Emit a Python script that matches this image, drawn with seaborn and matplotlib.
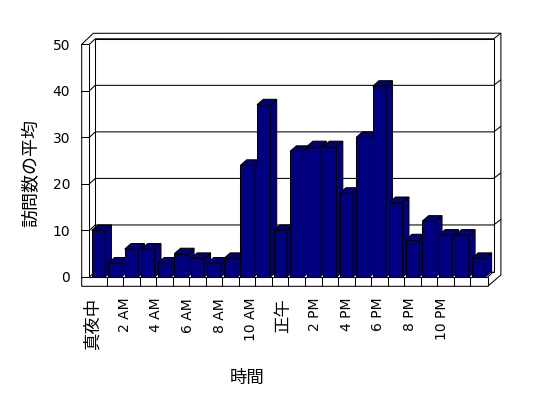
import matplotlib
matplotlib.use('Agg')
import matplotlib.pyplot as plt
import seaborn as sns
import pandas as pd
import numpy as np
from matplotlib.patches import Polygon

# ---------------- data ----------------
hours = ['真夜中', '1 AM', '2 AM', '3 AM', '4 AM', '5 AM', '6 AM', '7 AM', '8 AM',
         '9 AM', '10 AM', '11 AM', '正午', '1 PM', '2 PM', '3 PM', '4 PM', '5 PM',
         '6 PM', '7 PM', '8 PM', '9 PM', '10 PM', '11 PM']
visits = [10, 3, 6, 6, 3, 5, 4, 3, 4, 24, 37, 10, 27, 28, 28, 18, 30, 41, 16, 8, 12, 9, 9, 4]
tick_labels = ['真夜中', '2 AM', '4 AM', '6 AM', '8 AM', '10 AM', '正午',
               '2 PM', '4 PM', '6 PM', '8 PM', '10 PM']
y_ticks = [0, 10, 20, 30, 40, 50]
x_title = '時間'
y_title = '訪問数の平均'

# ---------------- style ----------------
sns.set_theme(style='white')
plt.rcParams['font.family'] = ['DejaVu Sans', 'Noto Sans CJK JP']
CJK = ['Noto Sans CJK JP', 'DejaVu Sans']

W, H, DPI = 548, 398, 100
fig = plt.figure(figsize=(W / DPI, H / DPI), dpi=DPI)
fig.patch.set_facecolor('white')

# front plane in pixels (top-down)
FX0, FX1, FY0, FY1 = 89.3, 487.7, 277.0, 44.3
ax = fig.add_axes([FX0 / W, 1 - FY0 / H, (FX1 - FX0) / W, (FY0 - FY1) / H])
ax.set_facecolor('none')

df = pd.DataFrame({x_title: hours, y_title: visits})
BAR = '#000080'
sns.barplot(data=df, x=x_title, y=y_title, color=BAR, saturation=1, width=0.81,
            edgecolor='black', linewidth=0.75, ax=ax)

XL, XR = -0.55, 23.55
ax.set_xlim(XL, XR)
ax.set_ylim(0, 50)
for s in ax.spines.values():
    s.set_visible(False)

sx = (FX1 - FX0) / (XR - XL)   # px per x unit
sy = (FY0 - FY1) / 50.0        # px per y unit


def pt(x, y, dx=0.0, dy=0.0):
    """data point shifted by dx px right, dy px up"""
    return (x + dx / sx, y + dy / sy)


LW = 0.75
D = (6.0, 5.5)         # depth of plot box
WT = (7.2, 5.6)        # back wall thickness
DW = (D[0] + WT[0], D[1] + WT[1])
LT = 7.6               # left wall thickness
FT = 9.3               # floor thickness
BD = (6.3, 5.5)        # bar depth

# outer silhouette of walls / floor
outer = [pt(XL, 50, -LT, 0), pt(XL, 50, -LT + 11.6, 11.0), pt(XR, 50, DW[0], DW[1]),
         pt(XR, 0, DW[0], 2.0), pt(XR, 0, 0, -FT), pt(XL, 0, -LT, -FT)]
ax.add_patch(Polygon(outer, closed=True, facecolor='white', edgecolor='black',
                     lw=LW, zorder=0.2, clip_on=False))
# back inner face
inner = [pt(XL, 0, *D), pt(XR, 0, *D), pt(XR, 50, *D), pt(XL, 50, *D)]
ax.add_patch(Polygon(inner, closed=True, facecolor='white', edgecolor='black',
                     lw=LW, zorder=0.3, clip_on=False))
# gridlines (left wall diagonal, back wall, right wall thickness)
for v in y_ticks[1:]:
    pts = [pt(XL, v), pt(XL, v, *D), pt(XR, v, *D), pt(XR, v, *DW)]
    ax.plot([p[0] for p in pts], [p[1] for p in pts], color='black', lw=LW,
            zorder=0.4, clip_on=False, solid_capstyle='butt')
# left wall inner edge, floor top edge, floor right side
for seg in ([pt(XL, 0), pt(XL, 50)],
            [pt(XL, 0), pt(XR, 0)],
            [pt(XR, 0), pt(XR, 0, 0, -FT)],
            [pt(XR, 0), pt(XR, 0, *D)],
            [pt(XL, 0), pt(XL, 0, *D)]):
    ax.plot([p[0] for p in seg], [p[1] for p in seg], color='black', lw=LW,
            zorder=0.45, clip_on=False, solid_capstyle='butt')

# 3D faces for the bars
for i, bar in enumerate(ax.patches[:len(visits)]):
    z = 2 + 0.01 * i
    bar.set_zorder(z)
    x0 = bar.get_x()
    x1 = x0 + bar.get_width()
    h = bar.get_height()
    top = [pt(x0, h), pt(x1, h), pt(x1, h, *BD), pt(x0, h, *BD)]
    side = [pt(x1, 0), pt(x1, h), pt(x1, h, *BD), pt(x1, 0, *BD)]
    for poly in (side, top):
        ax.add_patch(Polygon(poly, closed=True, facecolor=BAR, edgecolor='black',
                             lw=LW, zorder=z + 0.005, clip_on=False))

# y axis ticks (drawn across the left wall front face)
ax.set_yticks(y_ticks)
ax.set_yticklabels([str(v) for v in y_ticks])
ax.tick_params(axis='y', which='major', direction='out', length=LT * 0.72,
               width=LW, color='black', pad=8.4, labelsize=10, left=True,
               labelcolor='black')

# x axis: minor ticks = dividers on floor front, major = labels
ax.set_xticks(np.arange(0.5, 23.0, 1.0), minor=True)
lab_pos = [-0.33 + 1.918 * k for k in range(len(tick_labels))]
ax.set_xticks(lab_pos)
ax.set_xticklabels(tick_labels, rotation=90, ha='center', va='top')
ax.tick_params(axis='x', which='minor', direction='out', length=FT * 0.72,
               width=LW, color='black', bottom=True)
ax.tick_params(axis='x', which='major', length=0, pad=15, labelsize=10,
               labelcolor='black', bottom=True)
for lbl in ax.get_xticklabels():
    if not lbl.get_text().isascii():
        lbl.set_fontfamily(CJK)
        lbl.set_fontsize(12.5)

ax.set_xlabel(x_title, fontsize=12.5, color='black', family=CJK)
ax.set_ylabel(y_title, fontsize=13, color='black', family=CJK)
ax.xaxis.set_label_coords(0.395, -0.395)
ax.yaxis.set_label_coords(-0.122, 0.446)

fig.savefig('out.png', dpi=DPI, facecolor='white')
